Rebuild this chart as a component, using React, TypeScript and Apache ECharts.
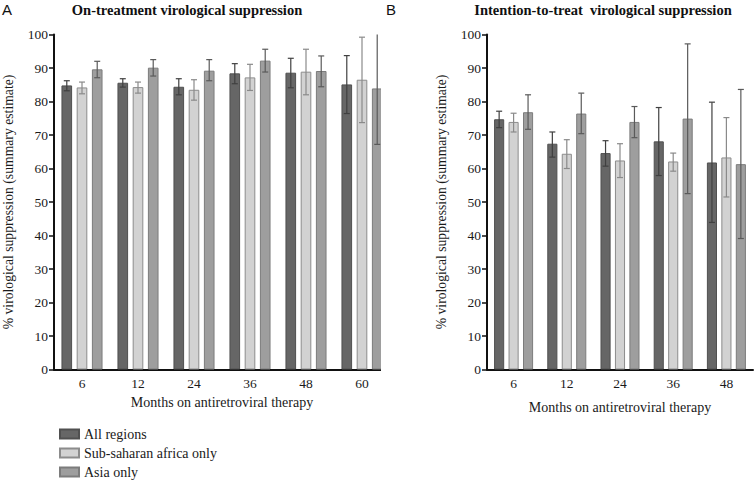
import React, { useEffect, useRef } from "react";
import * as echarts from "echarts";

const categoriesA = ["6", "12", "24", "36", "48", "60"];
const categoriesB = ["6", "12", "24", "36", "48"];
const seriesNames = ["All regions", "Sub-saharan africa only", "Asia only"];
const yTicks = [0, 100, 10];

// Panel A: on-treatment
const onAll = [84.8, 85.6, 84.4, 88.4, 88.6, 85.1];
const onAllLo = [83.2, 84.3, 82.0, 85.3, 84.1, 76.4];
const onAllHi = [86.2, 86.8, 86.8, 91.3, 92.9, 93.7];
const onSsa = [84.2, 84.3, 83.5, 87.2, 88.9, 86.5];
const onSsaLo = [82.3, 82.5, 80.4, 83.3, 82.0, 73.7];
const onSsaHi = [85.8, 85.8, 86.5, 91.1, 95.6, 99.2];
const onAsia = [89.6, 90.1, 89.2, 92.2, 89.1, 83.9];
const onAsiaLo = [87.1, 87.6, 86.2, 88.8, 84.4, 67.2];
const onAsiaHi = [92.0, 92.5, 92.5, 95.6, 93.6, 100];

// Panel B: intention-to-treat
const ittAll = [74.7, 67.4, 64.6, 68.1, 61.8];
const ittAllLo = [72.2, 63.4, 60.7, 57.9, 43.9];
const ittAllHi = [77.1, 70.9, 68.3, 78.2, 79.8];
const ittSsa = [73.9, 64.4, 62.4, 62.1, 63.3];
const ittSsaLo = [70.9, 60.0, 57.3, 59.2, 51.5];
const ittSsaHi = [76.5, 68.6, 67.4, 64.6, 75.2];
const ittAsia = [76.8, 76.4, 73.9, 74.9, 61.3];
const ittAsiaLo = [71.7, 70.4, 69.2, 52.5, 39.1];
const ittAsiaHi = [82.0, 82.5, 78.5, 97.2, 83.6];

const fills = ["#666666", "#d2d2d2", "#9e9e9e"];
const borders = ["#505050", "#8c8c8c", "#7c7c7c"];
const errColors = ["#404040", "#8a8a8a", "#5a5a5a"];

const SERIF = "Liberation Serif, DejaVu Serif, serif";
const SANS = "Liberation Sans, DejaVu Sans, sans-serif";
const BAR_W = 0.19;
const GAP = 0.43;

export default function App() {
  const ref = useRef<HTMLDivElement>(null);

  useEffect(() => {
    if (!ref.current) return;
    const chart = echarts.init(ref.current, undefined, { renderer: "svg" });

    const makeErr = (idx: number, grid: number, lo: number[], hi: number[]) => ({
      type: "custom",
      xAxisIndex: grid,
      yAxisIndex: grid,
      z: 5,
      silent: true,
      data: lo.map((l, i) => [i, l, hi[i]]),
      encode: { x: 0, y: [1, 2] },
      renderItem: (params: any, api: any) => {
        const ci = api.value(0);
        const l = api.value(1);
        const h = api.value(2);
        const band = api.size([1, 0])[0];
        const bw = band * BAR_W;
        const off = (idx - 1) * bw * (1 + GAP);
        const pLo = api.coord([ci, l]);
        const pHi = api.coord([ci, h]);
        const x = pLo[0] + off;
        const cap = 3;
        const st = { stroke: errColors[idx], lineWidth: 1.2 };
        const children: any[] = [
          { type: "line", shape: { x1: x, y1: pLo[1], x2: x, y2: pHi[1] }, style: st },
          { type: "line", shape: { x1: x - cap, y1: pLo[1], x2: x + cap, y2: pLo[1] }, style: st },
        ];
        if (h < 100) {
          children.push({ type: "line", shape: { x1: x - cap, y1: pHi[1], x2: x + cap, y2: pHi[1] }, style: st });
        }
        return { type: "group", children };
      },
    });

    const makeBar = (idx: number, grid: number, vals: number[]) => ({
      type: "bar",
      name: seriesNames[idx],
      xAxisIndex: grid,
      yAxisIndex: grid,
      barWidth: (BAR_W * 100).toFixed(1) + "%",
      barGap: (GAP * 100).toFixed(0) + "%",
      itemStyle: { color: fills[idx], borderColor: borders[idx], borderWidth: 1 },
      data: vals,
    });

    const xAxisCommon = {
      type: "category",
      axisLine: { lineStyle: { color: "#111", width: 2 } },
      axisTick: { alignWithLabel: true, length: 5, lineStyle: { color: "#111", width: 1.5 } },
      axisLabel: { fontFamily: SERIF, fontSize: 13.5, color: "#1a1a1a", margin: 7 },
      nameLocation: "middle",
      nameTextStyle: { fontFamily: SERIF, fontSize: 14, color: "#1a1a1a" },
    };
    const yAxisCommon = {
      type: "value",
      min: yTicks[0],
      max: yTicks[1],
      interval: yTicks[2],
      axisLine: { show: true, lineStyle: { color: "#111", width: 2 } },
      axisTick: { show: true, length: 5, lineStyle: { color: "#111", width: 1.5 } },
      axisLabel: { fontFamily: SERIF, fontSize: 13.5, color: "#1a1a1a", margin: 6 },
      splitLine: { show: false },
      name: "% virological suppression (summary estimate)",
      nameLocation: "middle",
      nameGap: 39,
      nameTextStyle: { fontFamily: SERIF, fontSize: 13.7, color: "#1a1a1a" },
    };

    chart.setOption({
      animation: false,
      backgroundColor: "#ffffff",
      grid: [
        { left: 54, top: 34.5, width: 336, height: 335 },
        { left: 487, top: 34.5, width: 266, height: 335 },
      ],
      xAxis: [
        { ...xAxisCommon, gridIndex: 0, data: categoriesA, name: "Months on antiretroviral therapy", nameGap: 25 },
        { ...xAxisCommon, gridIndex: 1, data: categoriesB, name: "Months on antiretroviral therapy", nameGap: 31 },
      ],
      yAxis: [
        { ...yAxisCommon, gridIndex: 0 },
        { ...yAxisCommon, gridIndex: 1 },
      ],
      legend: {
        data: seriesNames,
        orient: "vertical",
        left: 59,
        top: 427,
        height: 60,
        padding: 0,
        icon: "rect",
        itemWidth: 19,
        itemHeight: 9,
        itemGap: 5,
        textStyle: { fontFamily: SERIF, fontSize: 14, color: "#1a1a1a", lineHeight: 14 },
      },
      graphic: [
        { type: "rect", shape: { x: 381, y: 25, width: 12, height: 350 }, style: { fill: "#ffffff" }, z: 100 },
        { type: "text", x: 2, y: 2, z: 101, style: { text: "A", fontFamily: SANS, fontSize: 15, fill: "#111" } },
        { type: "text", x: 386, y: 2, z: 101, style: { text: "B", fontFamily: SANS, fontSize: 15, fill: "#111" } },
        { type: "text", x: 187, y: 2, z: 101, style: { text: "On-treatment virological suppression", textAlign: "center", fontFamily: SERIF, fontWeight: "bold", fontSize: 14.5, fill: "#111" } },
        { type: "text", x: 603, y: 2, z: 101, style: { text: "Intention-to-treat  virological suppression", textAlign: "center", fontFamily: SERIF, fontWeight: "bold", fontSize: 14.5, fill: "#111" } },
      ],
      series: [
        makeBar(0, 0, onAll),
        makeBar(1, 0, onSsa),
        makeBar(2, 0, onAsia),
        makeErr(0, 0, onAllLo, onAllHi),
        makeErr(1, 0, onSsaLo, onSsaHi),
        makeErr(2, 0, onAsiaLo, onAsiaHi),
        makeBar(0, 1, ittAll),
        makeBar(1, 1, ittSsa),
        makeBar(2, 1, ittAsia),
        makeErr(0, 1, ittAllLo, ittAllHi),
        makeErr(1, 1, ittSsaLo, ittSsaHi),
        makeErr(2, 1, ittAsiaLo, ittAsiaHi),
      ],
    });

    return () => chart.dispose();
  }, []);

  return <div ref={ref} style={{ position: "absolute", left: 0, top: 0, width: 755, height: 482 }} />;
}
